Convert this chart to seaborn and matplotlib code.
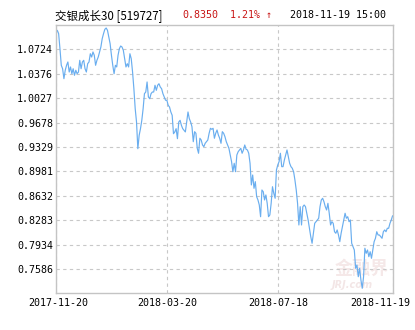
import matplotlib
matplotlib.use('Agg')
import numpy as np
import pandas as pd
import seaborn as sns
import matplotlib.pyplot as plt
from matplotlib.transforms import ScaledTranslation

# ---- data ----
start_date = '2017-11-20'
end_date = '2018-11-19'
x_tick_labels = ['2017-11-20', '2018-03-20', '2018-07-18', '2018-11-19']
y_tick_labels = ['1.0724', '1.0376', '1.0027', '0.9678', '0.9329',
                 '0.8981', '0.8632', '0.8283', '0.7934', '0.7586']

nav = [
    1.0947, 1.0995, 1.0947, 1.0733, 1.0496, 1.0447, 1.0305, 1.0425, 1.0496, 1.0543,
    1.0400, 1.0472, 1.0376, 1.0447, 1.0353, 1.0425, 1.0376, 1.0400, 1.0567, 1.0447,
    1.0543, 1.0567, 1.0447, 1.0400, 1.0519, 1.0543, 1.0661, 1.0614, 1.0686, 1.0639,
    1.0496, 1.0567, 1.0614, 1.0686, 1.0757, 1.0875, 1.0947, 1.1009, 1.1028, 1.0995,
    1.0900, 1.0804, 1.0639, 1.0496, 1.0376, 1.0496, 1.0472, 1.0639, 1.0733, 1.0771,
    1.0757, 1.0710, 1.0590, 1.0472, 1.0519, 1.0472, 1.0661, 1.0590, 1.0400, 1.0162,
    0.9877, 0.9687, 0.9306, 0.9497, 0.9592, 0.9711, 0.9877, 1.0091, 1.0115, 1.0258,
    1.0044, 1.0019, 1.0091, 1.0115, 1.0115, 1.0211, 1.0139, 1.0211, 1.0233, 1.0186,
    1.0162, 1.0091, 1.0044, 0.9997, 0.9997, 0.9925, 0.9901, 0.9830, 0.9783, 0.9520,
    0.9545, 0.9592, 0.9449, 0.9687, 0.9711, 0.9640, 0.9592, 0.9569, 0.9545, 0.9687,
    0.9830, 0.9734, 0.9687, 0.9620, 0.9406, 0.9549, 0.9526, 0.9312, 0.9241, 0.9455,
    0.9430, 0.9359, 0.9335, 0.9383, 0.9406, 0.9430, 0.9526, 0.9597, 0.9583, 0.9597,
    0.9455, 0.9526, 0.9573, 0.9502, 0.9455, 0.9383, 0.9549, 0.9526, 0.9477, 0.9406,
    0.9359, 0.9312, 0.9216, 0.9121, 0.8978, 0.9098, 0.8978, 0.9216, 0.9263, 0.9288,
    0.9312, 0.9241, 0.9288, 0.9359, 0.9298, 0.9288, 0.9241, 0.9098, 0.8789, 0.8931,
    0.8741, 0.8836, 0.8622, 0.8575, 0.8503, 0.8336, 0.8717, 0.8693, 0.8575, 0.8646,
    0.8527, 0.8336, 0.8361, 0.8527, 0.8764, 0.8670, 0.8599, 0.9002, 0.9074, 0.9121,
    0.9241, 0.9050, 0.9050, 0.9145, 0.9216, 0.9288, 0.9192, 0.9098, 0.9050, 0.9027,
    0.8978, 0.8860, 0.8717, 0.8527, 0.8218, 0.8479, 0.8218, 0.8479, 0.8503, 0.8479,
    0.8385, 0.8289, 0.8171, 0.8051, 0.7957, 0.8100, 0.8242, 0.8265, 0.8289, 0.8314,
    0.8479, 0.8575, 0.8599, 0.8550, 0.8479, 0.8432, 0.8527, 0.8385, 0.8218, 0.8265,
    0.8242, 0.8122, 0.8100, 0.8147, 0.8075, 0.7980, 0.8100, 0.8194, 0.8289, 0.8385,
    0.8314, 0.8336, 0.8265, 0.8289, 0.7957, 0.7908, 0.7861, 0.7600, 0.7647, 0.7480,
    0.7600, 0.7433, 0.7315, 0.7480, 0.7886, 0.7814, 0.7861, 0.7766, 0.7837, 0.7743,
    0.7861, 0.7980, 0.8028, 0.8122, 0.8075, 0.8075, 0.8051, 0.8028, 0.8122, 0.8147,
    0.8122, 0.8171, 0.8171, 0.8242, 0.8289, 0.8350,
]

title_name = '交银成长30 [519727]'
last_value = '0.8350'
change_text = '1.21% ↑'
stamp_text = '2018-11-19 15:00'

# ---- build frame ----
dates = pd.date_range(start_date, end_date, periods=len(nav))
df = pd.DataFrame({'date': dates, 'nav': nav})

sns.set_theme(style='white')
plt.rcParams['font.family'] = ['DejaVu Sans Mono', 'Noto Sans CJK SC']

W, H = 415, 330
fig = plt.figure(figsize=(W / 100, H / 100), dpi=100)
L, R, T, B = 56, 392.6, 24.7, 292.7
ax = fig.add_axes([L / W, 1 - B / H, (R - L) / W, (B - T) / H])

sns.lineplot(data=df, x='date', y='nav', ax=ax, color='#6aaeef', linewidth=0.85)

ax.set_xlim(pd.Timestamp(start_date), pd.Timestamp(end_date))
ax.set_ylim(0.7252, 1.1075)
ax.set_yticks([float(t) for t in y_tick_labels])
ax.set_yticklabels(y_tick_labels)
ax.set_xticks(pd.to_datetime(x_tick_labels))
ax.set_xticklabels(x_tick_labels)
ax.set_xlabel('')
ax.set_ylabel('')
ax.tick_params(axis='both', length=0, labelsize=7.2, colors='black')
ax.tick_params(axis='y', pad=2.2)
ax.tick_params(axis='x', pad=3.8)

for s in ax.spines.values():
    s.set_color('#c4c4c4')
    s.set_linewidth(1.0)

ax.grid(True, axis='both', linestyle=(0, (3, 3)), color='#c8c8c8', linewidth=0.8)
ax.set_axisbelow(True)

# shift first / last x tick labels like the reference
xl = ax.get_xticklabels()
xl[0].set_transform(xl[0].get_transform() + ScaledTranslation(2 / 100, 0, fig.dpi_scale_trans))
xl[-1].set_ha('right')
xl[-1].set_transform(xl[-1].get_transform() + ScaledTranslation(17.5 / 100, 0, fig.dpi_scale_trans))

# ---- header texts ----
ty = 1 - 15.5 / H
fig.text(55 / W, ty, title_name, fontsize=8.3, color='black', va='center', ha='left',
         family=['Noto Sans CJK SC', 'DejaVu Sans'])
fig.text(182.7 / W, ty, last_value, fontsize=7.2, color='#c81414', va='center', ha='left')
fig.text(230 / W, ty, change_text, fontsize=7.2, color='#c81414', va='center', ha='left',
         family=['DejaVu Sans Mono', 'DejaVu Sans'])
fig.text(290 / W, ty, stamp_text, fontsize=7.2, color='black', va='center', ha='left')

# ---- faint watermark ----
ax.text(362 / W, 1 - 268 / H, '金融界', transform=fig.transFigure, fontsize=13,
        color='#f5e8e8', ha='center', va='center', fontweight='bold', zorder=0,
        family=['Noto Sans CJK SC', 'DejaVu Sans'])
ax.text(352 / W, 1 - 285 / H, 'JRJ.com', transform=fig.transFigure, fontsize=7,
        color='#f3e6e6', ha='center', va='center', fontweight='bold', style='italic',
        zorder=0, family=['DejaVu Sans'])

fig.savefig('out.png', dpi=100)
